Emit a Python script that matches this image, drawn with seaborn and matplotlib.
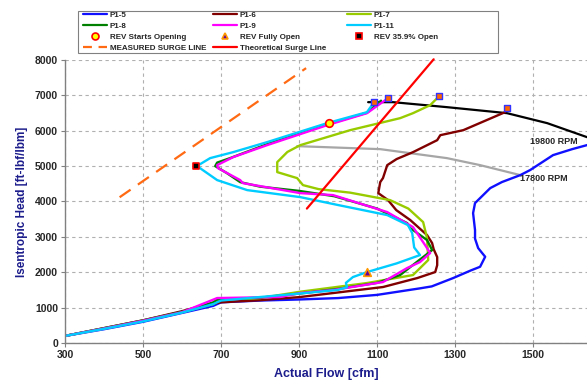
import numpy as np
import pandas as pd
import matplotlib
matplotlib.use("Agg")
import matplotlib.pyplot as plt
from matplotlib.lines import Line2D
from matplotlib.patches import Rectangle
import seaborn as sns

# ---- data (flow [cfm], head [ft-lbf/lbm]) ----
p1_5_flow = [300, 400, 500, 600, 680, 700, 800, 900, 1000, 1100, 1210, 1240, 1295, 1340, 1364, 1377,
             1368, 1359, 1351, 1351, 1346, 1351, 1390, 1420, 1467, 1492, 1551, 1600, 1640]
p1_5_head = [200, 390, 600, 850, 1050, 1150, 1200, 1230, 1270, 1360, 1545, 1600, 1836, 2050, 2155, 2438,
             2560, 2684, 2950, 3192, 3672, 3955, 4379, 4550, 4746, 4887, 5311, 5480, 5600]

p1_6_flow = [300, 400, 500, 600, 650, 700, 800, 903, 987, 1115, 1203, 1249, 1254, 1254, 1245, 1241,
             1228, 1185, 1149, 1128, 1103, 1108, 1115, 1126, 1150, 1192, 1254, 1262, 1321, 1428, 1433]
p1_6_head = [200, 420, 640, 900, 1050, 1150, 1210, 1300, 1412, 1582, 1836, 2006, 2200, 2429, 2650, 2825,
             3051, 3475, 3757, 4040, 4237, 4548, 4661, 5028, 5200, 5395, 5734, 5875, 6017, 6525, 6638]

p1_7_flow = [300, 400, 500, 600, 680, 690, 720, 800, 903, 1074, 1192, 1231, 1228, 1218, 1180, 1133,
             1031, 950, 910, 895, 844, 844, 870, 903, 1031, 1159, 1192, 1236, 1259]
p1_7_head = [200, 410, 630, 870, 1100, 1215, 1240, 1270, 1450, 1695, 1921, 2345, 2966, 3418, 3800, 4040,
             4250, 4350, 4463, 4661, 4831, 5113, 5400, 5593, 6017, 6356, 6497, 6723, 6977]

p1_8_flow = [300, 400, 500, 600, 680, 690, 800, 903, 1000, 1100, 1159, 1185, 1241, 1228, 1185, 1177,
             1100, 990, 900, 800, 749, 715, 685, 690, 723, 818, 972, 1074, 1110]
p1_8_head = [200, 420, 640, 880, 1150, 1230, 1280, 1400, 1530, 1700, 1921, 2147, 2627, 2910, 3249, 3390,
             3800, 4150, 4300, 4420, 4548, 4802, 5000, 5100, 5226, 5620, 6180, 6510, 6850]

p1_9_flow = [300, 400, 500, 600, 690, 851, 903, 987, 1115, 1177, 1210, 1236, 1223, 1192, 1126, 987,
             903, 756, 749, 692, 690, 731, 818, 972, 1074, 1128]
p1_9_head = [200, 410, 630, 870, 1271, 1300, 1412, 1497, 1723, 2119, 2288, 2542, 2768, 3277, 3701, 4181,
             4237, 4520, 4605, 4944, 5028, 5254, 5593, 6158, 6497, 6921]

p1_11_flow = [300, 400, 500, 600, 680, 700, 800, 903, 1000, 1023, 1020, 1038, 1074, 1150, 1210, 1195,
              1190, 1179, 1126, 1000, 903, 767, 690, 646, 638, 672, 731, 818, 972, 1074, 1092]
p1_11_head = [200, 400, 610, 860, 1100, 1200, 1300, 1400, 1500, 1580, 1700, 1864, 2005, 2250, 2486, 2700,
              3107, 3333, 3616, 3900, 4124, 4322, 4605, 4944, 5000, 5226, 5395, 5678, 6215, 6525, 6808]

rpm19800_flow = [1077, 1141, 1279, 1433, 1536, 1638]
rpm19800_head = [6808, 6808, 6667, 6497, 6215, 5819]
rpm17800_flow = [895, 1108, 1279, 1364, 1467]
rpm17800_head = [5565, 5480, 5226, 5028, 4746]

measured_surge_flow = [440, 918]
measured_surge_head = [4120, 7770]
theory_surge_flow = [920, 1245]
theory_surge_head = [3800, 8020]

end_flow = [1092, 1128, 1259, 1433]
end_head = [6808, 6921, 6977, 6638]
rev_start = (977, 6215)
rev_full = (1074, 2020)
rev_359 = (636, 5000)

series = [
    ("P1-5", p1_5_flow, p1_5_head, "#1010ff"),
    ("P1-6", p1_6_flow, p1_6_head, "#800000"),
    ("P1-7", p1_7_flow, p1_7_head, "#99cc00"),
    ("P1-8", p1_8_flow, p1_8_head, "#008000"),
    ("P1-9", p1_9_flow, p1_9_head, "#ff00ff"),
    ("P1-11", p1_11_flow, p1_11_head, "#00ccff"),
]

# ---- style ----
sns.set_theme(style="white")
plt.rcParams['font.family'] = ['Liberation Sans', 'DejaVu Sans']

fig = plt.figure(figsize=(5.87, 3.9), dpi=100)
ax = fig.add_axes([65 / 587, 47 / 390, 522 / 587, 283 / 390])

ax.plot(rpm19800_flow, rpm19800_head, color="black", lw=1.6)
ax.plot(rpm17800_flow, rpm17800_head, color="#a6a6a6", lw=1.6)

handles = {}
for name, fx, hy, col in series:
    df = pd.DataFrame({"flow": fx, "head": hy})
    sns.lineplot(data=df, x="flow", y="head", sort=False, estimator=None,
                 color=col, lw=1.7, ax=ax)
    handles[name] = Line2D([], [], color=col, lw=1.6)

ax.plot(measured_surge_flow, measured_surge_head, color="#ff6a13", lw=1.6, dashes=(6, 4))
ax.plot(theory_surge_flow, theory_surge_head, color="#ff0000", lw=1.6, clip_on=False)

ax.scatter(end_flow, end_head, marker="s", s=22, color="#ff6600", edgecolor="#3333ff",
           linewidth=1.0, zorder=5)
ax.scatter([rev_start[0]], [rev_start[1]], marker="o", s=30, color="#ffff00",
           edgecolor="#ff0000", linewidth=1.2, zorder=6)
ax.scatter([rev_full[0]], [rev_full[1]], marker="^", s=30, color="#660099",
           edgecolor="#ff9900", linewidth=1.2, zorder=6)
ax.scatter([rev_359[0]], [rev_359[1]], marker="s", s=22, color="#000000",
           edgecolor="#ff0000", linewidth=1.2, zorder=6)

ax.text(1492, 5706, "19800 RPM", fontsize=6.5, fontweight="bold", va="center")
ax.text(1467, 4661, "17800 RPM", fontsize=6.5, fontweight="bold", va="center")

ax.set_xlim(300, 1638)
ax.set_ylim(0, 8000)
ax.set_xticks(np.arange(300, 1600, 200))
ax.set_yticks(np.arange(0, 8001, 1000))
ax.grid(True, color="#b0b0b0", linestyle=(0, (3, 3)), lw=0.8)
ax.tick_params(labelsize=7.5, length=3, width=0.8, color="#808080", pad=2,
               bottom=True, left=True)
for t in ax.get_xticklabels() + ax.get_yticklabels():
    t.set_fontweight("bold")
for s in ["top", "right"]:
    ax.spines[s].set_visible(False)
for s in ["left", "bottom"]:
    ax.spines[s].set_color("#808080")
    ax.spines[s].set_linewidth(1.0)

ax.set_xlabel("Actual Flow [cfm]", fontsize=9, fontweight="bold", color="#1c1c8c", labelpad=6)
ax.set_ylabel("Isentropic Head [ft-lbf/lbm]", fontsize=8.5, fontweight="bold", color="#1c1c8c",
              labelpad=5)

# ---- legend: three framed-together columns ----
h_start = Line2D([], [], ls="none", marker="o", ms=5, mfc="#ffff00", mec="#ff0000", mew=1.2)
h_full = Line2D([], [], ls="none", marker="^", ms=5, mfc="#660099", mec="#ff9900", mew=1.2)
h_359 = Line2D([], [], ls="none", marker="s", ms=4.5, mfc="#000000", mec="#ff0000", mew=1.2)
h_meas = Line2D([], [], color="#ff6a13", lw=1.6, dashes=(4, 3))
h_theo = Line2D([], [], color="#ff0000", lw=1.6)

cols = [
    ([handles["P1-5"], handles["P1-8"], h_start, h_meas],
     ["P1-5", "P1-8", "REV Starts Opening", "MEASURED SURGE LINE"], 83),
    ([handles["P1-6"], handles["P1-9"], h_full, h_theo],
     ["P1-6", "P1-9", "REV Fully Open", "Theoretical Surge Line"], 213),
    ([handles["P1-7"], handles["P1-11"], h_359],
     ["P1-7", "P1-11", "REV 35.9% Open"], 347),
]
for hs, ls, xpx in cols:
    leg = fig.legend(hs, ls, loc="upper left", bbox_to_anchor=(xpx / 587, 1 - 11 / 390),
                     frameon=False, fontsize=5.8, handlelength=3.0, handletextpad=0.3,
                     labelspacing=0.42, borderpad=0, borderaxespad=0)
    for t in leg.get_texts():
        t.set_fontweight("bold")

fig.patches.append(Rectangle((78 / 587, 1 - 53 / 390), 420 / 587, 42 / 390,
                             transform=fig.transFigure, fill=False,
                             edgecolor="#808080", lw=0.8))

fig.savefig("out.png", dpi=100)
